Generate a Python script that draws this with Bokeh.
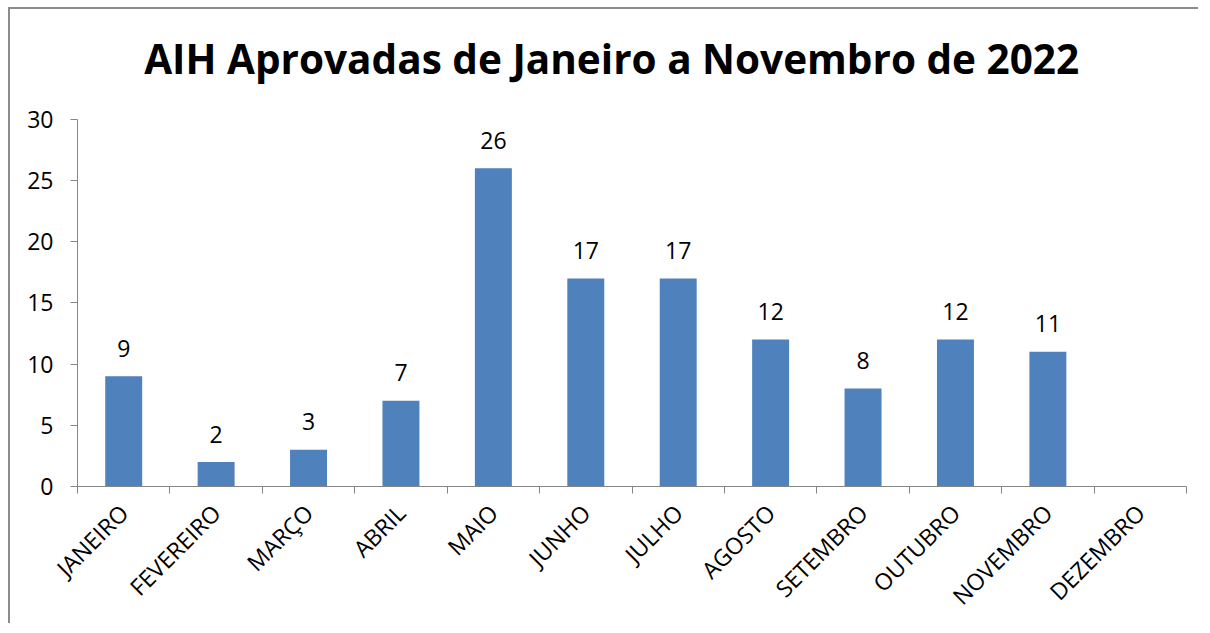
import math
from bokeh.plotting import figure
from bokeh.models import FixedTicker, ColumnDataSource, Range1d, Label
from bokeh.core.properties import value
from bokeh.embed import file_html
from bokeh.resources import INLINE

months = ["JANEIRO", "FEVEREIRO", "MARÇO", "ABRIL", "MAIO", "JUNHO", "JULHO",
          "AGOSTO", "SETEMBRO", "OUTUBRO", "NOVEMBRO", "DEZEMBRO"]
aih = [9, 2, 3, 7, 26, 17, 17, 12, 8, 12, 11, None]
y_ticks = [0, 5, 10, 15, 20, 25, 30]
title_text = "AIH Aprovadas de Janeiro a Novembro de 2022"

FONT = "Open Sans"
BLUE = "#4F81BD"
GRAY = "#868686"

xs = [i + 0.5 for i in range(len(months))]
bx = [x for x, v in zip(xs, aih) if v is not None]
bv = [v for v in aih if v is not None]
src = ColumnDataSource(dict(x=bx, top=bv, lab=[str(v) for v in bv]))

# frame extends up to the top edge; the value axis itself is bounded to 0..30
Y_TOP = 30 + 110 * 30 / 368
p = figure(width=1190, height=616, output_backend="svg", toolbar_location=None,
           x_range=Range1d(0, len(months)), y_range=Range1d(0, Y_TOP),
           min_border_left=67, min_border_right=14, min_border_top=0,
           min_border_bottom=138)
p.styles = {"margin-left": "8px", "margin-top": "7px",
            "border-top": "2px solid #8c8c8c", "border-left": "2px solid #8c8c8c"}

# chart title
p.add_layout(Label(x=5.78, y=34.97, text=title_text, text_font=FONT,
                   text_font_style="bold", text_font_size="40.5px",
                   text_align="center", text_baseline="middle",
                   text_color="black"))

p.vbar(x="x", top="top", width=0.4, source=src, fill_color=BLUE, line_color=None)
p.text(x="x", y="top", text="lab", source=src, text_align="center",
       text_baseline="alphabetic", y_offset=-28, text_font=value(FONT),
       text_font_size="23px", text_color="black")

p.xgrid.visible = False
p.ygrid.visible = False
p.outline_line_color = None

xa = p.xaxis[0]
xa.ticker = FixedTicker(ticks=xs, minor_ticks=list(range(len(months) + 1)))
xa.major_label_overrides = {x: m for x, m in zip(xs, months)}
xa.major_label_orientation = math.pi / 4
xa.major_tick_line_color = None
xa.minor_tick_line_color = GRAY
xa.minor_tick_in = 0
xa.minor_tick_out = 7
xa.axis_line_color = GRAY
xa.major_label_text_font = FONT
xa.major_label_text_font_size = "23px"
xa.major_label_text_color = "black"
xa.major_label_standoff = 15

ya = p.yaxis[0]
ya.bounds = (0, 30)
ya.ticker = FixedTicker(ticks=y_ticks)
ya.minor_tick_line_color = None
ya.major_tick_in = 0
ya.major_tick_out = 7
ya.major_tick_line_color = GRAY
ya.axis_line_color = GRAY
ya.major_label_text_font = FONT
ya.major_label_text_font_size = "23px"
ya.major_label_text_color = "black"
ya.major_label_standoff = 17

open("out.html", "w").write(file_html(p, INLINE))
